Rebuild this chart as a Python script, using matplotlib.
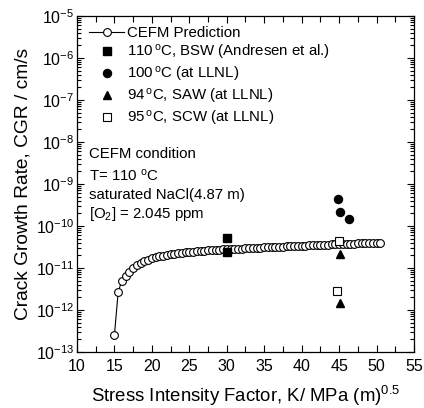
import matplotlib
matplotlib.use("Agg")
import matplotlib.pyplot as plt
from matplotlib.ticker import LogLocator, MultipleLocator, NullFormatter

plt.rcParams['font.family'] = ['Liberation Sans', 'DejaVu Sans']
plt.rcParams['mathtext.fontset'] = 'custom'
plt.rcParams['mathtext.rm'] = 'Liberation Sans'
plt.rcParams['mathtext.it'] = 'Liberation Sans:italic'
plt.rcParams['mathtext.bf'] = 'Liberation Sans:bold'

# CEFM prediction
K_cefm = [15, 15.5, 16, 16.5, 17, 17.5, 18, 18.5, 19, 19.5,
          20, 20.5, 21, 21.5, 22, 22.5, 23, 23.5, 24, 24.5,
          25, 25.5, 26, 26.5, 27, 27.5, 28, 28.5, 29, 29.5,
          30, 30.5, 31, 31.5, 32, 32.5, 33, 33.5, 34, 34.5,
          35, 35.5, 36, 36.5, 37, 37.5, 38, 38.5, 39, 39.5,
          40, 40.5, 41, 41.5, 42, 42.5, 43, 43.5, 44, 44.5,
          45, 45.5, 46, 46.5, 47, 47.5, 48, 48.5, 49, 49.5,
          50, 50.5]
CGR_cefm_e11 = [0.0254, 0.273, 0.499, 0.656, 0.817, 0.98, 1.15, 1.30, 1.44, 1.58,
                1.70, 1.79, 1.88, 1.96, 2.04, 2.11, 2.18, 2.24, 2.30, 2.35,
                2.40, 2.46, 2.50, 2.54, 2.58, 2.62, 2.65, 2.70, 2.73, 2.76,
                2.79, 2.82, 2.85, 2.88, 2.91, 2.94, 2.97, 3.00, 3.03, 3.06,
                3.09, 3.12, 3.15, 3.18, 3.21, 3.24, 3.27, 3.30, 3.33, 3.36,
                3.39, 3.43, 3.46, 3.49, 3.52, 3.55, 3.58, 3.61, 3.63, 3.66,
                3.69, 3.72, 3.75, 3.77, 3.80, 3.83, 3.86, 3.89, 3.92, 3.95,
                3.97, 4.00]
CGR_cefm = [v * 1e-11 for v in CGR_cefm_e11]

# Experimental data
K_bsw = [30, 30]
CGR_bsw = [5.1e-11, 2.45e-11]
K_llnl100 = [44.8, 45.1, 46.3]
CGR_llnl100 = [4.3e-10, 2.2e-10, 1.45e-10]
K_saw = [45.1, 45.1]
CGR_saw = [2.2e-11, 1.5e-12]
K_scw = [45.0, 44.7]
CGR_scw = [4.3e-11, 2.9e-12]

labels = ['CEFM Prediction',
          r'110$\,^{\rm o}$C, BSW (Andresen et al.)',
          r'100$\,^{\rm o}$C (at LLNL)',
          r'94$\,^{\rm o}$C, SAW (at LLNL)',
          r'95$\,^{\rm o}$C, SCW (at LLNL)']

fig = plt.figure(figsize=(4.24, 4.08), dpi=100)
ax = fig.add_axes([0.1816, 0.1373, 0.7948, 0.8235])

ax.plot(K_cefm, CGR_cefm, '-o', color='black', lw=0.8, ms=5.6,
        mfc='white', mec='black', mew=0.8, label=labels[0], zorder=2)
ax.plot(K_bsw, CGR_bsw, 's', color='black', ms=5.4, ls='none', label=labels[1], zorder=3)
ax.plot(K_llnl100, CGR_llnl100, 'o', color='black', ms=5.8, ls='none', label=labels[2], zorder=3)
ax.plot(K_saw, CGR_saw, '^', color='black', ms=6.2, ls='none', label=labels[3], zorder=3)
ax.plot(K_scw, CGR_scw, 's', color='black', mfc='white', mew=0.8, ms=5.4, ls='none',
        label=labels[4], zorder=4)

ax.set_yscale('log')
ax.set_xlim(10, 55)
ax.set_ylim(1e-13, 1e-5)
ax.xaxis.set_major_locator(MultipleLocator(5))
ax.xaxis.set_minor_locator(MultipleLocator(2.5))
ax.yaxis.set_major_locator(LogLocator(base=10, numticks=20))
ax.yaxis.set_minor_locator(LogLocator(base=10, subs=range(2, 10), numticks=20))
ax.yaxis.set_minor_formatter(NullFormatter())

ax.tick_params(which='both', direction='in', top=True, right=True, labelsize=11.5, width=0.8)
ax.tick_params(which='major', length=5)
ax.tick_params(which='minor', length=3)
ax.tick_params(axis='x', which='minor', length=4)
ax.tick_params(axis='x', pad=5)
ax.tick_params(axis='y', pad=2)
for s in ax.spines.values():
    s.set_linewidth(0.9)

ax.set_xlabel(r'Stress Intensity Factor, K/ MPa (m)$^{0.5}$', fontsize=13.4, labelpad=7)
ax.set_ylabel('Crack Growth Rate, CGR / cm/s', fontsize=13.8, labelpad=3)

ax.legend(loc='upper left', bbox_to_anchor=(0.036, 0.97), frameon=False, fontsize=10.8,
          handlelength=2.35, handletextpad=0.2, labelspacing=0.2, borderaxespad=0.0,
          borderpad=0.0, numpoints=1)

txt_lines = ['CEFM condition', r'T= 110 $^{\rm o}$C', 'saturated NaCl(4.87 m)',
             r'[O$_2$] = 2.045 ppm']
ys = [0.589, 0.524, 0.466, 0.411]
for t, yy in zip(txt_lines, ys):
    ax.text(0.035, yy, t, transform=ax.transAxes, fontsize=10.8, va='center', ha='left')

fig.savefig('out.png', dpi=100)
